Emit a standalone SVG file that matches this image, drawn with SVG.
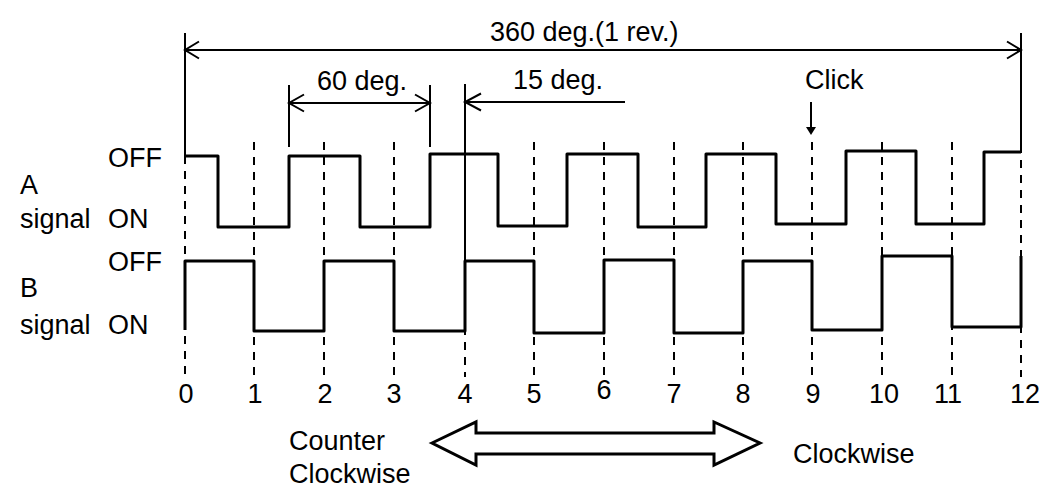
<svg xmlns="http://www.w3.org/2000/svg" width="1060" height="496" viewBox="0 0 1060 496">
<style>
text{font-family:"Liberation Sans",Arial,sans-serif;font-size:27px;fill:#000}
.num{text-anchor:middle}
.dash{stroke:#000;stroke-width:2;stroke-dasharray:8 7;fill:none}
.dim{stroke:#000;stroke-width:2;fill:none}
.sig{stroke:#000;stroke-width:3;fill:none;stroke-linejoin:round}
</style>
<rect width="1060" height="496" fill="#fff"/>
<g id="grid">
<path class="dash" d="M185,156V377M254,142V377M324,142V377M394,142V377M465,252V377M534,142V377M604,142V377M674,142V377M743,142V377M812,142V377M882,142V377M952,142V377M1021,145V377"/>
</g>
<g id="a-signal">
<path class="sig" d="M185,156H218V227H289V156H360V227H430V154H498V226H567V154H638V227H706V154H776V224H846V151H916V224H984V152H1021"/>
<text x="108" y="166.5">OFF</text>
<text x="20" y="194">A</text>
<text x="20" y="227.5">signal</text>
<text x="108" y="227.5">ON</text>
</g>
<g id="b-signal">
<path class="sig" d="M185,330V261H254V331H324V261H394V331H465V261H534V333H604V260H674V333H743V261H812V330H882V256H952V327H1021V256"/>
<text x="108" y="270.5">OFF</text>
<text x="20" y="297">B</text>
<text x="20" y="333.5">signal</text>
<text x="108" y="333.5">ON</text>
</g>
<g id="connectors">
<path class="dim" d="M185,33V156M1021,33V145M185,50H1021M199,41.5L185,50L199,58.5M1007,41.5L1021,50L1007,58.5"/>
<path class="dim" d="M289,85V147M430,85V147M289,103H430M304,94.5L289,103L304,111.5M415,94.5L430,103L415,111.5"/>
<path class="dim" d="M465,84V252M465,102H625M481,93.5L465,102L481,110.5"/>
<path class="dim" d="M811,102V128"/>
<polygon points="806,127 816,127 811,135" fill="#000"/>
</g>
<g id="labels">
<text x="490" y="41">360 deg.(1 rev.)</text>
<text x="317" y="90">60 deg.</text>
<text x="513" y="89">15 deg.</text>
<text x="805" y="89">Click</text>
</g>
<g id="axis">
<text class="num" x="186" y="402.5">0</text>
<text class="num" x="255" y="402.5">1</text>
<text class="num" x="325" y="402.5">2</text>
<text class="num" x="394" y="402.5">3</text>
<text class="num" x="465" y="402.5">4</text>
<text class="num" x="534" y="402.5">5</text>
<text class="num" x="604" y="399">6</text>
<text class="num" x="674" y="402.5">7</text>
<text class="num" x="743" y="402.5">8</text>
<text class="num" x="813" y="402.5">9</text>
<text class="num" x="884" y="402.5">10</text>
<text class="num" x="948" y="402.5">11</text>
<text class="num" x="1025" y="402.5">12</text>
</g>
<g id="direction">
<polygon points="432,443 476,422 476,433 714,433 714,422 760,443 714,465 714,454 476,454 476,465" fill="#fff" stroke="#000" stroke-width="3" stroke-linejoin="miter"/>
<text x="289" y="450">Counter</text>
<text x="289" y="483">Clockwise</text>
<text x="793" y="463">Clockwise</text>
</g>
</svg>
